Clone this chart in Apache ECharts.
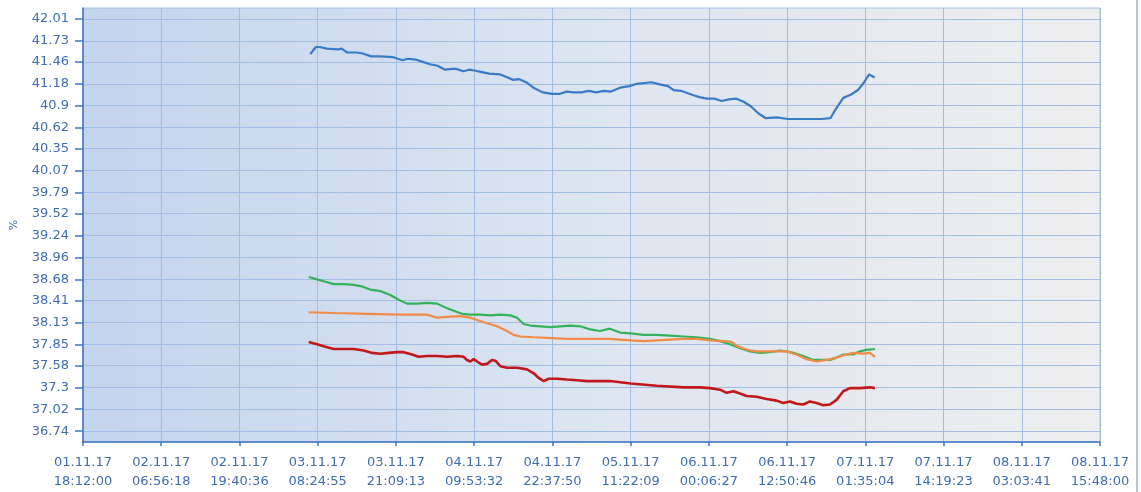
<!DOCTYPE html>
<html>
<head>
<meta charset="utf-8">
<script src="https://cdn.jsdelivr.net/npm/echarts@6/dist/echarts.min.js"></script>
<style>
  html, body { margin: 0; padding: 0; background: #ffffff; }
  #chart { width: 1141px; height: 492px; }
</style>
</head>
<body>
<div id="chart"></div>
<script>
// Zeitachse: Stunden ab 01.11.17 18:12:00
var xTickLabels = [
  '01.11.17\n18:12:00', '02.11.17\n06:56:18', '02.11.17\n19:40:36', '03.11.17\n08:24:55',
  '03.11.17\n21:09:13', '04.11.17\n09:53:32', '04.11.17\n22:37:50', '05.11.17\n11:22:09',
  '06.11.17\n00:06:27', '06.11.17\n12:50:46', '07.11.17\n01:35:04', '07.11.17\n14:19:23',
  '08.11.17\n03:03:41', '08.11.17\n15:48:00'
];
var yTickLabels = ['36.74', '37.02', '37.3', '37.58', '37.85', '38.13', '38.41', '38.68', '38.96', '39.24',
  '39.52', '39.79', '40.07', '40.35', '40.62', '40.9', '41.18', '41.46', '41.73', '42.01'];

var blueHours = [37.01, 37.92, 38.52, 39.72, 41.52, 42.12, 43.02, 44.52, 45.42, 46.92, 48.43, 50.53, 51.25, 52.03,
  52.93, 54.13, 55.33, 56.53, 57.73, 58.94, 60.14, 60.74, 61.94, 62.84, 63.74, 64.94, 66.14, 67.94, 69.15, 70.05,
  70.95, 72.15, 73.35, 74.85, 76.35, 77.55, 78.75, 79.96, 81.16, 82.36, 83.56, 84.76, 85.96, 87.46, 88.96, 90.17,
  92.57, 94.07, 95.27, 96.17, 97.37, 99.17, 100.37, 101.58, 102.78, 103.98, 105.18, 106.38, 107.58, 108.78,
  109.99, 111.19, 112.99, 114.79, 116.59, 118.39, 120.19, 121.70, 122.60, 123.80, 125.00, 126.20, 127.10,
  128.00, 128.91];
var blueValues = [41.56, 41.65, 41.65, 41.63, 41.62, 41.63, 41.58, 41.58, 41.57, 41.53, 41.53, 41.52, 41.50, 41.48,
  41.50, 41.49, 41.46, 41.43, 41.41, 41.36, 41.37, 41.37, 41.34, 41.36, 41.35, 41.33, 41.31, 41.30, 41.26, 41.23,
  41.24, 41.20, 41.13, 41.07, 41.05, 41.05, 41.08, 41.07, 41.07, 41.09, 41.07, 41.09, 41.08, 41.13, 41.15, 41.18,
  41.20, 41.17, 41.15, 41.10, 41.09, 41.04, 41.01, 40.99, 40.99, 40.96, 40.98, 40.99, 40.95, 40.89,
  40.80, 40.74, 40.75, 40.73, 40.73, 40.73, 40.73, 40.74, 40.86, 41.00, 41.04, 41.10, 41.19,
  41.30, 41.26];

var greenHours = [36.75, 38.11, 39.46, 40.82, 42.45, 44.08, 45.43, 46.79, 48.42, 50.05, 51.41, 52.76, 54.39, 56.02,
  57.65, 59.00, 60.36, 61.72, 63.07, 64.70, 66.33, 67.96, 69.59, 70.67, 71.76, 72.84, 74.47, 76.10, 77.73, 79.36,
  80.99, 82.61, 84.18, 85.80, 87.43, 89.17, 91.23, 93.40, 95.57, 97.75, 99.92, 102.09, 103.72, 105.34, 106.97,
  108.60, 110.23, 111.86, 113.49, 114.57, 115.66, 117.28, 118.91, 120.54, 121.63, 122.71, 123.80, 125.43,
  126.51, 127.60, 128.95];
var greenValues = [38.71, 38.68, 38.65, 38.62, 38.62, 38.61, 38.59, 38.55, 38.53, 38.48, 38.42, 38.37, 38.37, 38.38,
  38.37, 38.32, 38.28, 38.24, 38.23, 38.23, 38.22, 38.23, 38.22, 38.19, 38.11, 38.09, 38.08, 38.07, 38.08, 38.09,
  38.08, 38.04, 38.02, 38.05, 38.00, 37.99, 37.97, 37.97, 37.96, 37.95, 37.94, 37.92, 37.89, 37.85, 37.80,
  37.76, 37.74, 37.75, 37.77, 37.76, 37.74, 37.70, 37.65, 37.65, 37.65, 37.68, 37.72, 37.72,
  37.76, 37.78, 37.79];

var orangeHours = [36.75, 40.82, 46.25, 51.68, 56.02, 57.65, 59.27, 61.44, 63.07, 64.16, 65.79, 67.42, 69.04, 70.13,
  71.22, 73.39, 76.48, 78.81, 81.53, 85.80, 89.17, 91.23, 93.40, 95.57, 97.75, 99.92, 102.09, 104.26, 105.62,
  106.43, 108.06, 109.69, 111.31, 112.94, 114.57, 116.20, 117.83, 119.46, 121.08, 122.71, 123.80, 125.43,
  127.06, 128.14, 128.95];
var orangeValues = [38.26, 38.25, 38.24, 38.23, 38.23, 38.19, 38.20, 38.21, 38.19, 38.16, 38.12, 38.08, 38.02, 37.97,
  37.95, 37.94, 37.93, 37.92, 37.92, 37.92, 37.90, 37.89, 37.90, 37.91, 37.92, 37.92, 37.90, 37.89, 37.88,
  37.83, 37.78, 37.76, 37.76, 37.76, 37.76, 37.72, 37.66, 37.63, 37.65, 37.68, 37.71, 37.74,
  37.73, 37.74, 37.69];

var redHours = [36.75, 38.11, 39.46, 40.82, 42.45, 44.08, 45.71, 47.07, 48.42, 49.78, 51.14, 52.22, 53.58, 54.66,
  56.02, 57.65, 59.27, 60.90, 61.99, 62.53, 63.07, 63.62, 64.16, 64.97, 65.79, 66.60, 67.14, 67.96, 69.04, 70.67,
  72.30, 73.39, 74.20, 75.02, 75.83, 77.19, 78.81, 80.44, 82.07, 85.80, 89.17, 93.40, 97.75, 100.46, 102.09,
  103.72, 104.80, 105.89, 106.97, 108.06, 109.69, 111.31, 112.94, 114.03, 115.11, 116.20, 117.28, 118.37,
  119.46, 120.54, 121.63, 122.71, 123.80, 124.89, 126.51, 128.14, 128.95];
var redValues = [37.88, 37.85, 37.82, 37.79, 37.79, 37.79, 37.77, 37.74, 37.73, 37.74, 37.75, 37.75, 37.72, 37.69,
  37.70, 37.70, 37.69, 37.70, 37.69, 37.65, 37.63, 37.66, 37.63, 37.59, 37.60, 37.65, 37.64, 37.57, 37.55, 37.55,
  37.53, 37.48, 37.42, 37.38, 37.41, 37.41, 37.40, 37.39, 37.38, 37.38, 37.35, 37.32, 37.30, 37.30, 37.29,
  37.27, 37.23, 37.25, 37.22, 37.19, 37.18, 37.15, 37.13, 37.10, 37.12, 37.09, 37.08, 37.12,
  37.10, 37.07, 37.08, 37.14, 37.25, 37.29, 37.29, 37.30, 37.29];

var totalHours = 165.6;
var xStep = totalHours / 13;
var yStep = 5.27 / 19;

function pairs(xs, ys) {
  return xs.map(function (x, i) { return [x, ys[i]]; });
}

var labelColor = '#3f6db3';
var axisColor = '#3c76c2';
var gridColor = '#a4bde2';
var font = 'DejaVu Sans';

var myChart = echarts.init(document.getElementById('chart'));

var option = {
  backgroundColor: '#ffffff',
  animation: false,
  grid: {
    left: 83,
    right: 41,
    top: 8,
    bottom: 50,
    show: true,
    borderColor: gridColor,
    borderWidth: 1,
    backgroundColor: new echarts.graphic.LinearGradient(0, 0, 1, 0, [
      { offset: 0, color: '#c3d4ed' },
      { offset: 0.5, color: '#dde5f0' },
      { offset: 1, color: '#eeeeee' }
    ])
  },
  graphic: [{
    type: 'rect',
    shape: { x: 1136, y: 0, width: 2, height: 492 },
    style: { fill: '#b4c6e0' }
  }],
  xAxis: {
    type: 'value',
    min: 0,
    max: totalHours,
    interval: xStep,
    axisLine: { show: true, lineStyle: { color: axisColor, width: 1.5 } },
    axisTick: { show: true, length: 4, lineStyle: { color: axisColor, width: 1.5 } },
    axisLabel: {
      color: labelColor,
      fontFamily: font,
      fontSize: 13,
      lineHeight: 19,
      margin: 11,
      showMinLabel: true,
      showMaxLabel: true,
      formatter: function (v) {
        return xTickLabels[Math.round(v / xStep)] || '';
      }
    },
    splitLine: { show: true, lineStyle: { color: gridColor, width: 1 } }
  },
  yAxis: {
    type: 'value',
    min: 36.74 - yStep / 2,
    max: 42.01 + yStep / 2,
    name: '%',
    nameLocation: 'middle',
    nameGap: 63,
    nameTextStyle: { color: labelColor, fontFamily: font, fontSize: 11 },
    axisLine: { show: true, lineStyle: { color: axisColor, width: 1.5 } },
    axisTick: {
      show: true,
      length: 8,
      customValues: yTickLabels.map(Number),
      lineStyle: { color: axisColor, width: 1.5 }
    },
    axisLabel: {
      color: labelColor,
      fontFamily: font,
      fontSize: 13,
      margin: 14,
      customValues: yTickLabels.map(Number),
      formatter: function (v) {
        var i = yTickLabels.map(Number).indexOf(v);
        return i >= 0 ? yTickLabels[i] : String(v);
      }
    },
    splitLine: { show: true, lineStyle: { color: gridColor, width: 1 } }
  },
  series: [
    {
      name: 'Serie 1',
      type: 'line',
      showSymbol: false,
      data: pairs(blueHours, blueValues),
      lineStyle: { color: '#3a7bc8', width: 2.2 },
      itemStyle: { color: '#3a7bc8' }
    },
    {
      name: 'Serie 2',
      type: 'line',
      showSymbol: false,
      data: pairs(greenHours, greenValues),
      lineStyle: { color: '#36b25c', width: 2.2 },
      itemStyle: { color: '#36b25c' }
    },
    {
      name: 'Serie 3',
      type: 'line',
      showSymbol: false,
      data: pairs(orangeHours, orangeValues),
      lineStyle: { color: '#f08c48', width: 2.2 },
      itemStyle: { color: '#f08c48' }
    },
    {
      name: 'Serie 4',
      type: 'line',
      showSymbol: false,
      data: pairs(redHours, redValues),
      lineStyle: { color: '#c0181c', width: 2.6 },
      itemStyle: { color: '#c0181c' }
    }
  ]
};

myChart.setOption(option);
</script>
</body>
</html>
